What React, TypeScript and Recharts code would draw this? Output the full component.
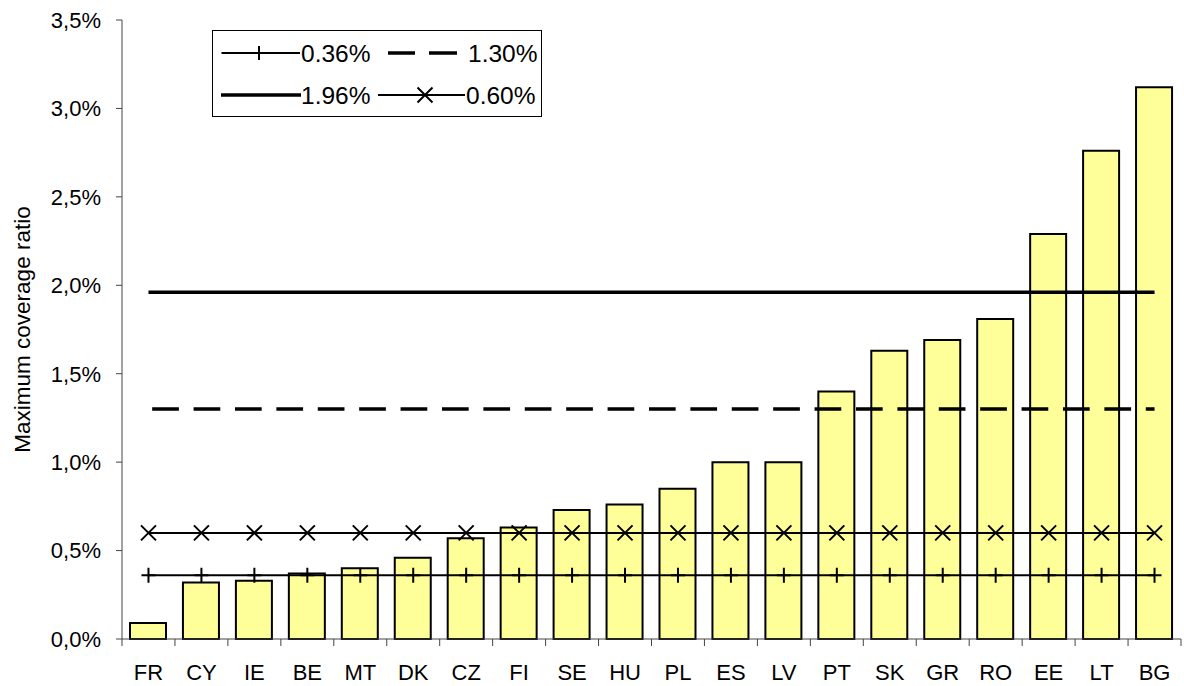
import React from 'react';
import { ComposedChart, Bar, Line, XAxis, YAxis, Legend } from 'recharts';

const countries = ['FR', 'CY', 'IE', 'BE', 'MT', 'DK', 'CZ', 'FI', 'SE', 'HU', 'PL', 'ES', 'LV', 'PT', 'SK', 'GR', 'RO', 'EE', 'LT', 'BG'];
const coverage = [0.09, 0.32, 0.33, 0.37, 0.40, 0.46, 0.57, 0.63, 0.73, 0.76, 0.85, 1.0, 1.0, 1.40, 1.63, 1.69, 1.81, 2.29, 2.76, 3.12];
const level036 = 0.36;
const level130 = 1.30;
const level196 = 1.96;
const level060 = 0.60;
const yTicks = [0, 0.5, 1.0, 1.5, 2.0, 2.5, 3.0, 3.5];
const legendLabels = ['0.36%', '1.30%', '1.96%', '0.60%'];
const yTitle = 'Maximum coverage ratio';

const data = countries.map((c, i) => ({
  name: c,
  value: coverage[i],
  l036: level036,
  l130: level130,
  l196: level196,
  l060: level060,
}));

const W = 1184;
const H = 686;
const M = { top: 20, right: 3, bottom: 0, left: 0 };
const Y_W = 122;
const X_H = 47;
const FONT = '"Liberation Sans", Arial, sans-serif';
const BAND = (W - M.left - M.right - Y_W) / countries.length;
const AXIS_Y = H - M.bottom - X_H;

const PlusDot = (props: any) => {
  const { cx, cy, index } = props;
  if (cx == null || cy == null) return <g key={index} />;
  return (
    <path key={index} d={`M${cx - 7},${cy}H${cx + 7}M${cx},${cy - 7.5}V${cy + 7.5}`} stroke="#000" strokeWidth={2} fill="none" />
  );
};

const CrossDot = (props: any) => {
  const { cx, cy, index } = props;
  if (cx == null || cy == null) return <g key={index} />;
  const s = 7.5;
  return (
    <path key={index} d={`M${cx - s},${cy - s}L${cx + s},${cy + s}M${cx - s},${cy + s}L${cx + s},${cy - s}`} stroke="#000" strokeWidth={2} fill="none" />
  );
};

const XTick = (props: any) => {
  const { x, payload, index } = props;
  const left = x - BAND / 2;
  const right = x + BAND / 2;
  return (
    <g>
      <line x1={left} y1={AXIS_Y} x2={left} y2={AXIS_Y + 7} stroke="#444" strokeWidth={1} />
      {index === countries.length - 1 && (
        <line x1={right} y1={AXIS_Y} x2={right} y2={AXIS_Y + 7} stroke="#444" strokeWidth={1} />
      )}
      <text x={x} y={AXIS_Y + 41} textAnchor="middle" fontSize={22} fontFamily={FONT} fill="#000">
        {payload.value}
      </text>
    </g>
  );
};

const YTitle = (props: any) => {
  const vb = props.viewBox || { x: 0, y: M.top, width: Y_W, height: AXIS_Y - M.top };
  const cx = vb.x + 22;
  const cy = vb.y + vb.height / 2;
  return (
    <text x={cx} y={cy} transform={`rotate(-90 ${cx} ${cy})`} textAnchor="middle" dominantBaseline="central" fontSize={22.5} fontFamily={FONT} fill="#000">
      {yTitle}
    </text>
  );
};

const LegendBox = () => {
  const r1 = 23;
  const r2 = 65;
  const ts = { fontSize: 24.5, fontFamily: FONT, fill: '#000' } as any;
  return (
    <svg width={331} height={88} style={{ display: 'block' }}>
      <rect x={0.5} y={0.5} width={329} height={86} fill="#fff" stroke="#000" strokeWidth={1} />
      <line x1={9.5} y1={r1} x2={88} y2={r1} stroke="#000" strokeWidth={2} />
      <path d={`M47,${r1 - 7}V${r1 + 7}`} stroke="#000" strokeWidth={2} />
      <text x={89} y={r1} dominantBaseline="central" {...ts}>{legendLabels[0]}</text>
      <line x1={176} y1={r1} x2={203} y2={r1} stroke="#000" strokeWidth={3.5} />
      <line x1={217} y1={r1} x2={245} y2={r1} stroke="#000" strokeWidth={3.5} />
      <text x={256} y={r1} dominantBaseline="central" {...ts}>{legendLabels[1]}</text>
      <line x1={9} y1={r2} x2={89} y2={r2} stroke="#000" strokeWidth={3.5} />
      <text x={89} y={r2} dominantBaseline="central" {...ts}>{legendLabels[2]}</text>
      <line x1={166} y1={r2} x2={253} y2={r2} stroke="#000" strokeWidth={2} />
      <path d={`M${213 - 7.5},${r2 - 7.5}L${213 + 7.5},${r2 + 7.5}M${213 - 7.5},${r2 + 7.5}L${213 + 7.5},${r2 - 7.5}`} stroke="#000" strokeWidth={2} />
      <text x={254} y={r2} dominantBaseline="central" {...ts}>{legendLabels[3]}</text>
    </svg>
  );
};

export default function App() {
  return (
    <div style={{ position: 'absolute', left: 0, top: 0, width: W, height: H, background: '#fff' }}>
      <ComposedChart width={W} height={H} data={data} margin={M} barSize={36}>
        <XAxis
          dataKey="name"
          height={X_H}
          interval={0}
          axisLine={{ stroke: '#444', strokeWidth: 1 }}
          tickLine={false}
          tick={<XTick />}
        />
        <YAxis
          width={Y_W}
          domain={[0, 3.5]}
          ticks={yTicks}
          interval={0}
          axisLine={{ stroke: '#444', strokeWidth: 1 }}
          tickLine={{ stroke: '#444', strokeWidth: 1 }}
          tickSize={6}
          tickMargin={15}
          tick={{ fontSize: 22, fontFamily: FONT, fill: '#000' }}
          tickFormatter={(v: number) => v.toFixed(1).replace('.', ',') + '%'}
          label={{ content: <YTitle /> }}
        />
        <Legend
          layout="horizontal"
          verticalAlign="middle"
          align="center"
          content={() => <LegendBox />}
          wrapperStyle={{ left: 212, top: 30, width: 331, height: 88 }}
        />
        <Bar dataKey="value" fill="#FFFF99" stroke="#000" strokeWidth={2} isAnimationActive={false} />
        <Line dataKey="l196" stroke="#000" strokeWidth={3.5} dot={false} activeDot={false} isAnimationActive={false} />
        <Line dataKey="l130" stroke="#000" strokeWidth={3.5} strokeDasharray="26.7 14.7" strokeDashoffset={-3.7} dot={false} activeDot={false} isAnimationActive={false} />
        <Line dataKey="l060" stroke="#000" strokeWidth={2} dot={<CrossDot />} activeDot={false} isAnimationActive={false} />
        <Line dataKey="l036" stroke="#000" strokeWidth={2} dot={<PlusDot />} activeDot={false} isAnimationActive={false} />
      </ComposedChart>
    </div>
  );
}
